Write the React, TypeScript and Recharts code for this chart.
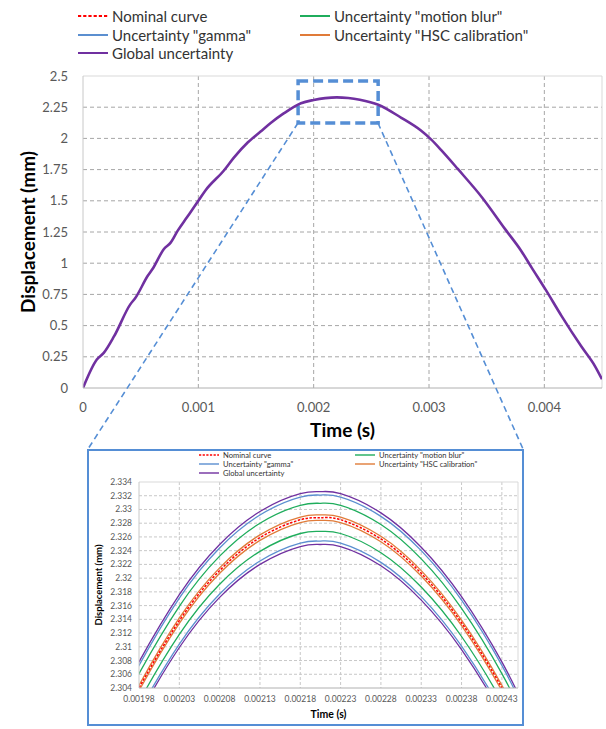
import { LineChart, Line, XAxis, YAxis, CartesianGrid, ReferenceArea, ReferenceLine, Label } from "recharts";

// main chart: measured displacement (all curves overlap at this scale)
const MAIN_T = [
  0, 0.00012, 0.00018, 0.00027, 0.00041, 0.000455, 0.00056, 0.00061, 0.0007, 0.00076, 0.00082, 0.0009, 0.001,
  0.00106, 0.00122, 0.00131, 0.00143, 0.00154, 0.00163, 0.00174, 0.00189, 0.002, 0.0021, 0.0022, 0.0023, 0.0024,
  0.00256, 0.00276, 0.00293, 0.00302, 0.00311, 0.00325, 0.00346, 0.00366, 0.0038, 0.00389, 0.00401, 0.00415,
  0.00432, 0.00444, 0.0045,
];
const MAIN_D = [
  0, 0.228, 0.281, 0.415, 0.67, 0.723, 0.897, 0.964, 1.112, 1.165, 1.259, 1.366, 1.5,
  1.581, 1.741, 1.848, 1.969, 2.055, 2.125, 2.2, 2.282, 2.308, 2.323, 2.329, 2.324, 2.31,
  2.27, 2.165, 2.063, 1.99, 1.902, 1.755, 1.527, 1.273, 1.098, 0.965, 0.79, 0.576,
  0.334, 0.174, 0.07,
];
const MAIN_X_TICKS = [0, 0.001, 0.002, 0.003, 0.004];
const MAIN_Y_TICKS = [0, 0.25, 0.5, 0.75, 1, 1.25, 1.5, 1.75, 2, 2.25, 2.5];

// zoomed inset around the peak
const INSET_T = [0.00196, 0.00198, 0.00203, 0.00208, 0.00213, 0.00218, 0.002205, 0.00223, 0.00228, 0.00233, 0.00238, 0.00243, 0.00246];
const NOMINAL = [2.2994, 2.304, 2.3138, 2.3211, 2.3259, 2.3285, 2.3288, 2.3285, 2.3257, 2.3207, 2.3135, 2.304, 2.2969];
const GLOBAL_UP = [2.3032, 2.3078, 2.3176, 2.3249, 2.3297, 2.3323, 2.3326, 2.3323, 2.3295, 2.3245, 2.3173, 2.3078, 2.3007];
const GLOBAL_LOW = [2.2955, 2.3001, 2.3099, 2.3172, 2.322, 2.3246, 2.3249, 2.3246, 2.3218, 2.3168, 2.3096, 2.3001, 2.293];
const GAMMA_UP = [2.3027, 2.3073, 2.3171, 2.3244, 2.3292, 2.3318, 2.3321, 2.3318, 2.329, 2.324, 2.3168, 2.3073, 2.3002];
const GAMMA_LOW = [2.296, 2.3006, 2.3104, 2.3177, 2.3225, 2.3251, 2.3254, 2.3251, 2.3223, 2.3173, 2.3101, 2.3006, 2.2935];
const BLUR_UP = [2.3015, 2.3061, 2.3159, 2.3232, 2.328, 2.3306, 2.3309, 2.3306, 2.3278, 2.3228, 2.3156, 2.3061, 2.299];
const BLUR_LOW = [2.2974, 2.302, 2.3118, 2.3191, 2.3239, 2.3265, 2.3268, 2.3265, 2.3237, 2.3187, 2.3115, 2.302, 2.2949];
const HSC_UP = [2.2998, 2.3044, 2.3142, 2.3215, 2.3263, 2.3289, 2.3292, 2.3289, 2.3261, 2.3211, 2.3139, 2.3044, 2.2973];
const HSC_LOW = [2.299, 2.3036, 2.3134, 2.3207, 2.3255, 2.3281, 2.3284, 2.3281, 2.3253, 2.3203, 2.3131, 2.3036, 2.2965];
const INSET_X_TICKS = [0.00198, 0.00203, 0.00208, 0.00213, 0.00218, 0.00223, 0.00228, 0.00233, 0.00238, 0.00243];
const INSET_Y_TICKS = [2.304, 2.306, 2.308, 2.31, 2.312, 2.314, 2.316, 2.318, 2.32, 2.322, 2.324, 2.326, 2.328, 2.33, 2.332, 2.334];

const RED = "#ff0000";
const GREEN = "#1fad5c";
const BLUE = "#5b8fd0";
const ORANGE = "#e07b39";
const PURPLE = "#7030a0";
const BOX_BLUE = "#558ed5";

const LEGEND = [
  { label: "Nominal curve", color: RED, dashed: true, row: 0, col: 0 },
  { label: 'Uncertainty "motion blur"', color: GREEN, dashed: false, row: 0, col: 1 },
  { label: 'Uncertainty "gamma"', color: BLUE, dashed: false, row: 1, col: 0 },
  { label: 'Uncertainty "HSC calibration"', color: ORANGE, dashed: false, row: 1, col: 1 },
  { label: "Global uncertainty", color: PURPLE, dashed: false, row: 2, col: 0 },
];

const FONT = "Lato, 'Open Sans', sans-serif";

const mainData = MAIN_T.map((t, i) => ({ t, d: MAIN_D[i] }));
const insetData = INSET_T.map((t, i) => ({
  t,
  nominal: NOMINAL[i],
  globalUp: GLOBAL_UP[i],
  globalLow: GLOBAL_LOW[i],
  gammaUp: GAMMA_UP[i],
  gammaLow: GAMMA_LOW[i],
  blurUp: BLUR_UP[i],
  blurLow: BLUR_LOW[i],
  hscUp: HSC_UP[i],
  hscLow: HSC_LOW[i],
}));

function Legend({ colX, rowY, lineW, fontSize, lw }: any) {
  return (
    <>
      {LEGEND.map((it) => (
        <div
          key={it.label}
          style={{
            position: "absolute",
            left: colX[it.col],
            top: rowY[it.row] - fontSize,
            height: fontSize * 2,
            display: "flex",
            alignItems: "center",
            fontFamily: FONT,
            fontSize,
            color: "#333",
            whiteSpace: "nowrap",
          }}
        >
          <svg width={lineW + 2} height={6} style={{ marginRight: 2 }}>
            <line
              x1={0}
              x2={lineW}
              y1={3}
              y2={3}
              stroke={it.color}
              strokeWidth={lw}
              strokeDasharray={it.dashed ? `${lw * 1.6} ${lw}` : undefined}
            />
          </svg>
          {it.label}
        </div>
      ))}
    </>
  );
}

const yTitle = (text: string, dx: number, size: number) => (props: any) => {
  const { x, y, height } = props.viewBox;
  const cx = x + dx;
  const cy = y + height / 2;
  return (
    <text x={cx} y={cy} transform={`rotate(-90 ${cx} ${cy})`} textAnchor="middle" dominantBaseline="central"
      fontFamily={FONT} fontSize={size} fontWeight="bold" fill="#000">
      {text}
    </text>
  );
};

const xTitle = (text: string, dy: number, size: number) => (props: any) => {
  const { x, y, width } = props.viewBox;
  return (
    <text x={x + width / 2} y={y + dy} textAnchor="middle" dominantBaseline="central"
      fontFamily={FONT} fontSize={size} fontWeight="bold" fill="#000">
      {text}
    </text>
  );
};

const fmt3 = (v: number) => String(+v.toFixed(3));
const fmt5 = (v: number) => v.toFixed(5);

function MainChart() {
  const tick = { fontSize: 13, fill: "#595959", fontFamily: FONT };
  return (
    <LineChart width={606} height={445} data={mainData} margin={{ top: 76, right: 4, left: 13, bottom: 0 }}>
      <CartesianGrid
        stroke="#a6a6a6"
        strokeDasharray="4 3"
        horizontalValues={MAIN_Y_TICKS.slice(1, -1)}
        verticalValues={MAIN_X_TICKS.slice(1)}
      />
      <ReferenceLine y={2.5} stroke="#d9d9d9" />
      <ReferenceLine x={0.0045} stroke="#d9d9d9" />
      <XAxis
        dataKey="t"
        type="number"
        domain={[0, 0.0045]}
        ticks={MAIN_X_TICKS}
        interval={0}
        tickFormatter={(v) => String(v)}
        tick={tick}
        tickLine={false}
        tickMargin={9}
        height={57}
        stroke="#b0b0b0"
        allowDataOverflow
      >
        <Label content={xTitle("Time (s)", 41, 19)} />
      </XAxis>
      <YAxis
        type="number"
        domain={[0, 2.5]}
        ticks={MAIN_Y_TICKS}
        interval={0}
        tickFormatter={(v) => String(v)}
        tick={tick}
        tickLine={false}
        tickMargin={9}
        width={70}
        stroke="#c8c8c8"
        allowDataOverflow
      >
        <Label content={yTitle("Displacement (mm)", 14, 19)} />
      </YAxis>
      <Line type="monotone" dataKey="d" stroke={PURPLE} strokeWidth={2.6} dot={false} isAnimationActive={false} />
      <ReferenceArea
        x1={0.001865}
        x2={0.002559}
        y1={2.123}
        y2={2.46}
        fill="none"
        stroke={BOX_BLUE}
        strokeWidth={3.5}
        strokeDasharray="10 5"
        ifOverflow="visible"
      />
    </LineChart>
  );
}

function InsetChart() {
  const tick = { fontSize: 8.5, fill: "#595959", fontFamily: FONT };
  const series = [
    { key: "globalUp", color: PURPLE },
    { key: "globalLow", color: PURPLE },
    { key: "gammaUp", color: BLUE },
    { key: "gammaLow", color: BLUE },
    { key: "blurUp", color: GREEN },
    { key: "blurLow", color: GREEN },
    { key: "hscUp", color: ORANGE },
    { key: "hscLow", color: ORANGE },
  ];
  return (
    <LineChart width={432} height={272} data={insetData} margin={{ top: 31, right: 3, left: 6, bottom: 0 }}>
      <CartesianGrid
        stroke="#c8c8c8"
        strokeDasharray="3 2"
        horizontalValues={INSET_Y_TICKS.slice(1, -1)}
        verticalValues={INSET_X_TICKS.slice(1)}
      />
      <ReferenceLine y={2.334} stroke="#d9d9d9" />
      <ReferenceLine x={0.00245} stroke="#d9d9d9" />
      <XAxis
        dataKey="t"
        type="number"
        domain={[0.00198, 0.00245]}
        ticks={INSET_X_TICKS}
        interval={0}
        tickFormatter={fmt5}
        tick={tick}
        tickLine={false}
        tickSize={4}
        tickMargin={4}
        height={35}
        stroke="#b0b0b0"
        allowDataOverflow
      >
        <Label content={xTitle("Time (s)", 26, 10.5)} />
      </XAxis>
      <YAxis
        type="number"
        domain={[2.304, 2.334]}
        ticks={INSET_Y_TICKS}
        interval={0}
        tickFormatter={fmt3}
        tick={tick}
        tickLine={false}
        tickSize={4}
        tickMargin={3}
        width={44}
        stroke="#c8c8c8"
        allowDataOverflow
      >
        <Label content={yTitle("Displacement (mm)", 3, 9.5)} />
      </YAxis>
      {series.map((s) => (
        <Line key={s.key} type="natural" dataKey={s.key} stroke={s.color} strokeWidth={1.3} dot={false} isAnimationActive={false} />
      ))}
      <Line type="natural" dataKey="nominal" stroke={RED} strokeWidth={1.5} strokeDasharray="2.5 1.5" dot={false} isAnimationActive={false} />
    </LineChart>
  );
}

export default function App() {
  return (
    <div style={{ position: "absolute", left: 0, top: 0, width: 606, height: 729, background: "#fff", overflow: "hidden" }}>
      <Legend colX={[78, 300]} rowY={[16, 34.5, 53]} lineW={30} fontSize={15} lw={2} />
      <div style={{ position: "absolute", left: 0, top: 0 }}>
        <MainChart />
      </div>
      <svg width={606} height={729} style={{ position: "absolute", left: 0, top: 0, pointerEvents: "none" }}>
        <line x1={298} y1={123} x2={88} y2={449} stroke={BOX_BLUE} strokeWidth={1.6} strokeDasharray="6 4" />
        <line x1={378} y1={123} x2={523} y2={449} stroke={BOX_BLUE} strokeWidth={1.6} strokeDasharray="6 4" />
      </svg>
      <div
        style={{
          position: "absolute",
          left: 87,
          top: 449,
          width: 433,
          height: 273,
          border: `2px solid ${BOX_BLUE}`,
          background: "#fff",
        }}
      >
        <div style={{ position: "absolute", left: 0, top: 0 }}>
          <InsetChart />
        </div>
        <Legend colX={[110, 266]} rowY={[4, 13, 22]} lineW={20} fontSize={7.6} lw={1.4} />
      </div>
    </div>
  );
}
